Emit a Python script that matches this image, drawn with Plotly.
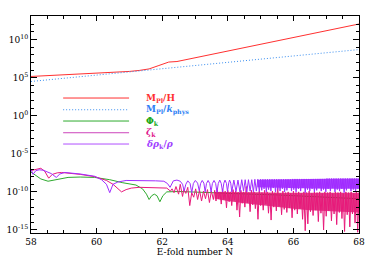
import numpy as np
import plotly.graph_objects as go

# values are log10 of the plotted quantity
mh_N = [58, 59, 60, 61, 61.3, 61.6, 61.9, 62.2, 62.45, 63, 64, 65, 66, 67, 68]
mh_log = [5.16, 5.35, 5.56, 5.82, 5.95, 6.15, 6.6, 7.05, 7.12, 7.61, 8.5, 9.39, 10.28, 11.17, 12.05]

mk_N = [58, 60, 62, 64, 66, 68]
mk_log = [4.5, 5.34, 6.18, 7.01, 7.85, 8.69]

phi_N = [58.0, 58.15, 58.3, 58.52, 58.8, 59.13, 59.5, 59.94, 60.4, 60.8, 61.2, 61.4, 61.52, 61.6,
         61.68, 61.76, 61.84, 61.93, 62.02, 62.14, 62.5, 63.0, 63.5, 64.0, 64.5, 65.0, 65.5, 66.0,
         66.5, 67.0, 67.5, 68.0]
phi_log = [-7.4, -7.9, -8.3, -8.6, -8.35, -8.1, -8.05, -8.1, -8.4, -8.8, -9.1, -9.6, -10.3, -11.0,
           -10.5, -10.3, -10.5, -11.3, -10.5, -10.0, -9.95, -10.0, -10.1, -10.2, -10.25, -10.3, -10.4, -10.5,
           -10.6, -10.7, -10.8, -10.9]

zeta_N = [58.0, 58.15, 58.3, 58.42, 58.54, 58.65, 58.8, 58.93, 59.2, 59.5, 59.94, 60.3, 60.5, 60.65,
          60.76, 60.9, 61.06, 61.3, 61.6, 61.9, 62.14, 62.25, 62.3, 62.36, 62.42, 62.5, 62.55, 62.62,
          62.66, 62.72, 62.78, 62.84, 62.9, 62.96, 63.02, 63.08, 63.14, 63.2, 63.26, 63.32, 63.38,
          63.44, 63.5, 63.56]
zeta_log = [-7.2, -7.0, -6.9, -7.3, -8.2, -7.7, -7.5, -7.45, -7.55, -7.7, -8.0, -8.5, -9.0, -9.6,
            -10.0, -9.7, -9.5, -9.4, -9.45, -9.5, -9.5, -9.9, -9.6, -10.1, -9.3, -10.3, -9.0, -10.6,
            -9.7, -10.2, -9.4, -11.8, -10.1, -10.7, -9.6, -11.0, -9.8, -11.2, -9.9, -10.9, -9.7,
            -11.4, -9.9, -11.0]
# dense part, sampled every 0.04 e-folds from 63.6 to 68
zeta_dense_log = [-9.8, -11.2, -9.7, -10.9, -10.0, -11.6, -9.6, -11.0, -9.9, -12.1,
                  -9.8, -11.3, -10.0, -11.8, -9.7, -11.1, -9.9, -12.4, -10.1, -13.3,
                  -9.8, -11.5, -10.0, -12.0, -9.3, -11.4, -10.1, -12.6, -9.8, -11.7,
                  -10.0, -12.2, -10.2, -13.6, -9.9, -11.8, -10.1, -12.4, -9.8, -11.6,
                  -10.0, -12.8, -10.2, -13.7, -9.9, -12.0, -10.1, -12.5, -9.2, -11.9,
                  -10.2, -13.0, -9.9, -12.3, -10.1, -12.7, -10.0, -12.1, -10.2, -13.4,
                  -9.9, -12.4, -10.1, -12.9, -10.0, -12.2, -10.2, -13.6, -10.0, -15.1,
                  -10.1, -14.2, -9.9, -12.6, -10.2, -13.1, -10.0, -12.4, -10.1, -13.9,
                  -10.0, -12.8, -10.2, -15.0, -10.0, -13.2, -10.1, -12.5, -10.0, -13.8,
                  -10.2, -12.9, -10.0, -14.3, -10.1, -12.7, -10.0, -13.5, -10.2, -15.2,
                  -10.0, -13.0, -10.1, -14.6, -10.0, -12.9, -10.2, -14.1, -10.0, -15.3,
                  -10.1]
# the solid-looking core of the dense zeta band
zeta_band_N = [63.6, 64.0, 64.5, 65.0, 65.5, 66.0, 66.5, 67.0, 67.5, 68.0]
zeta_band_top = [-10.0, -10.0, -10.0, -10.05, -10.1, -10.1, -10.1, -10.1, -10.1, -10.1]
zeta_band_bot = [-10.9, -11.2, -11.5, -11.8, -12.0, -12.2, -12.4, -12.5, -12.6, -12.7]

drho_N = [58.0, 58.06, 58.15, 58.25, 58.37, 58.5, 58.62, 58.77, 58.88, 59.03, 59.5, 59.94, 60.15,
          60.3, 60.4, 60.5, 60.65, 60.9, 61.3, 61.8, 62.05, 62.16, 62.24, 62.3, 62.34, 62.45, 62.55,
          62.62, 62.67, 62.72, 62.78, 62.85, 62.9, 62.95, 63.01, 63.08, 63.13, 63.17, 63.22, 63.27,
          63.31, 63.35, 63.4, 63.45, 63.49, 63.53, 63.58, 63.63, 63.67, 63.71, 63.755, 63.8, 63.84,
          63.88, 63.915, 63.96, 63.99, 64.03, 64.055, 64.09, 64.12, 64.185, 64.25, 64.31, 64.37,
          64.425, 64.48, 64.53, 64.58, 64.63, 64.68, 64.73, 64.78, 64.825, 64.87, 64.915, 64.96]
drho_log = [-7.0, -7.7, -7.2, -7.1, -7.15, -7.35, -7.6, -8.1, -7.65, -7.45, -7.65, -7.95, -8.4,
            -9.0, -10.1, -9.0, -8.7, -8.5, -8.5, -8.55, -8.6, -8.9, -9.4, -8.8, -8.55, -8.45, -8.6,
            -9.0, -9.85, -9.0, -8.55, -8.9, -10.1, -8.9, -8.5, -8.85, -9.85, -8.9, -8.5, -8.85,
            -10.0, -8.9, -8.5, -8.9, -10.0, -8.9, -8.5, -8.9, -10.05, -8.9, -8.45, -8.9, -10.0,
            -8.85, -8.45, -8.9, -9.95, -8.8, -8.45, -8.85, -10.0, -8.45, -9.95, -8.45, -10.0,
            -8.4, -9.9, -8.4, -10.0, -8.4, -9.9, -8.4, -10.0, -8.35, -9.9, -8.35, -9.95]
# dense part, 87 samples from 65 to 68
drho_dense_log = [-8.35, -9.8, -8.35, -9.6, -8.35, -10.0, -8.35, -9.7, -8.35, -9.9,
                  -8.35, -9.5, -8.35, -10.0, -8.35, -9.7, -8.35, -9.9, -8.35, -9.6,
                  -8.35, -10.0, -8.35, -9.8, -8.35, -9.5, -8.35, -9.9, -8.3, -9.7,
                  -8.3, -10.0, -8.3, -9.6, -8.3, -9.9, -8.3, -9.5, -8.3, -10.1,
                  -8.3, -9.7, -8.3, -9.9, -8.3, -9.6, -8.3, -10.0, -8.3, -9.8,
                  -8.3, -9.5, -8.3, -9.9, -8.3, -9.7, -8.3, -10.0, -8.25, -9.6,
                  -8.25, -9.9, -8.25, -9.5, -8.25, -10.0, -8.25, -9.7, -8.25, -9.9,
                  -8.25, -9.6, -8.25, -10.1, -8.25, -9.8, -8.25, -9.5, -8.25, -9.9,
                  -8.25, -9.7, -8.25, -10.0, -8.25, -9.6, -8.25]
drho_band_N = [64.9, 65.5, 66.0, 67.0, 68.0]
drho_band_top = [-8.4, -8.35, -8.3, -8.27, -8.25]
drho_band_bot = [-9.4, -9.5, -9.55, -9.6, -9.6]

zeta_all_N = zeta_N + list(np.round(np.linspace(63.6, 68.0, len(zeta_dense_log)), 3))
zeta_all = zeta_log + zeta_dense_log
drho_all_N = drho_N + list(np.round(np.linspace(65.0, 68.0, len(drho_dense_log)), 4))
drho_all = drho_log + drho_dense_log

c_red = '#ff3030'
c_blue = '#3a8ef0'
c_green = '#2eaa2e'
c_zeta = '#e8197a'
c_drho = '#a02cff'


def band(fig, xs, top, bot, color):
    fig.add_trace(go.Scatter(x=xs + xs[::-1], y=np.power(10.0, top + bot[::-1]),
                             mode='lines', fill='toself', fillcolor=color,
                             line=dict(width=0), hoverinfo='skip'))


fig = go.Figure()
fig.add_trace(go.Scatter(x=mh_N, y=np.power(10.0, mh_log), mode='lines',
                         line=dict(color=c_red, width=1)))
fig.add_trace(go.Scatter(x=mk_N, y=np.power(10.0, mk_log), mode='lines',
                         line=dict(color=c_blue, width=1, dash='1px,2px')))
fig.add_trace(go.Scatter(x=phi_N, y=np.power(10.0, phi_log), mode='lines',
                         line=dict(color=c_green, width=1)))
band(fig, zeta_band_N, zeta_band_top, zeta_band_bot, 'rgba(215,0,100,0.75)')
fig.add_trace(go.Scatter(x=zeta_all_N, y=np.power(10.0, zeta_all), mode='lines',
                         line=dict(color=c_zeta, width=1)))
band(fig, drho_band_N, drho_band_top, drho_band_bot, 'rgba(150,20,255,0.8)')
fig.add_trace(go.Scatter(x=drho_all_N, y=np.power(10.0, drho_all), mode='lines',
                         line=dict(color=c_drho, width=1)))

# legend drawn by hand: line on the left, label on the right
leg_y = [0.622, 0.568, 0.516, 0.462, 0.410]
leg_lines = [(c_red, 'solid'), (c_blue, '1px,2px'), (c_green, 'solid'), ('#cc44bb', 'solid'), ('#b050ff', 'solid')]
leg_text = ['<b>M<sub>Pl</sub>/H</b>', '<b>M<sub>Pl</sub>/<i>k</i><sub>phys</sub></b>', '<b>Φ<sub>k</sub></b>',
            '<b><i>ζ</i><sub>k</sub></b>', '<b><i>δρ</i><sub>k</sub>/<i>ρ</i></b>']
leg_col = [c_red, '#2f7ff5', '#18a818', '#e0168c', '#a040ff']
for yy, (lc, ld), txt, tc in zip(leg_y, leg_lines, leg_text, leg_col):
    fig.add_shape(type='line', xref='paper', yref='paper', x0=0.098, x1=0.299, y0=yy, y1=yy,
                  line=dict(color=lc, width=1, dash=ld))
    fig.add_annotation(xref='paper', yref='paper', x=0.345, y=yy, text=txt, showarrow=False,
                       xanchor='left', yanchor='middle', font=dict(color=tc, size=9))

ytv = [10.0 ** k for k in range(-15, 11, 5)]
ytt = ['10<sup>%d</sup>' % k for k in range(-15, 11, 5)]
yminor = [10.0 ** k for k in range(-15, 14) if k % 5 != 0]

fig.update_layout(
    width=374, height=267,
    margin=dict(l=31, r=15, t=16, b=34),
    paper_bgcolor='white', plot_bgcolor='white',
    showlegend=False,
    font=dict(family='DejaVu Serif', size=9, color='black'),
    xaxis=dict(range=[58, 68], tickvals=[58, 60, 62, 64, 66, 68], ticks='inside', ticklen=5,
               mirror='allticks', showline=True, linecolor='black', linewidth=1, showgrid=False,
               zeroline=False, tickcolor='black', automargin=False,
               minor=dict(dtick=0.5, ticks='inside', ticklen=3, tickcolor='black', showgrid=False),
               title=dict(text='E-fold number N', standoff=2, font=dict(size=9))),
    yaxis=dict(type='log', range=[-15.4, 13.1], tickvals=ytv, ticktext=ytt, ticks='inside',
               ticklen=6, mirror='allticks', showline=True, linecolor='black', linewidth=1,
               showgrid=False, zeroline=False, tickcolor='black', automargin=False,
               minor=dict(tickvals=yminor, ticks='inside', ticklen=3, tickcolor='black', showgrid=False)),
)

fig.write_html("out.html", config={'displayModeBar': False},
               post_script="document.body.style.margin='0';")
